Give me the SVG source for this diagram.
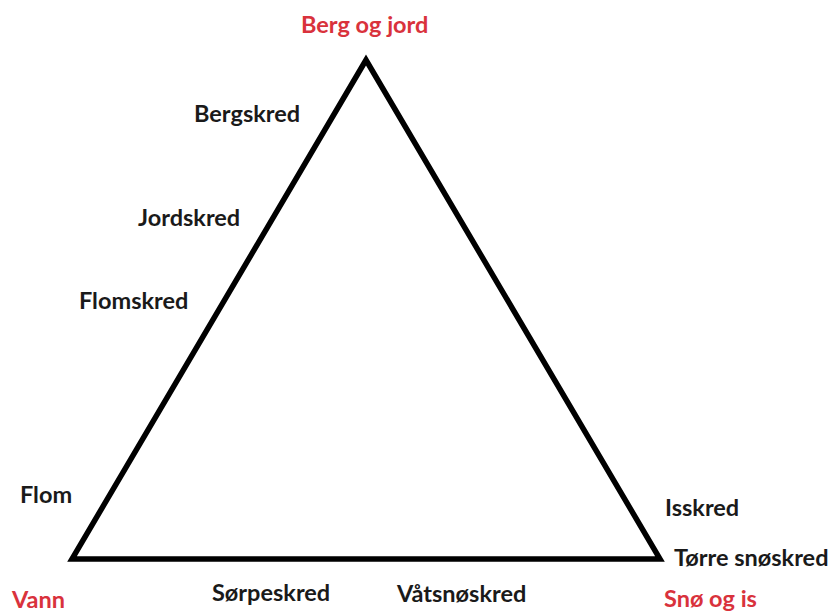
<svg xmlns="http://www.w3.org/2000/svg" width="836" height="613" viewBox="0 0 836 613">
<style>
text{font-family:Lato,"Open Sans","Liberation Sans",sans-serif;font-weight:bold;font-size:23.5px}
.lbl{fill:#1a1a1a}
.corner{fill:#d9323c}
.edge{fill:none;stroke:#000;stroke-width:5.5;stroke-linejoin:miter}
</style>
<rect width="836" height="613" fill="#fff"/>
<g id="connectors">
<path class="edge" d="M366,60 L72,559 L660,559 Z"/>
</g>
<g id="node-berg-og-jord"><text class="corner" x="301" y="33">Berg og jord</text></g>
<g id="node-vann"><text class="corner" x="12" y="608">Vann</text></g>
<g id="node-sno-og-is"><text class="corner" x="664" y="607">Snø og is</text></g>
<g id="node-bergskred"><text class="lbl" x="194" y="122">Bergskred</text></g>
<g id="node-jordskred"><text class="lbl" x="138" y="226">Jordskred</text></g>
<g id="node-flomskred"><text class="lbl" x="79" y="309">Flomskred</text></g>
<g id="node-flom"><text class="lbl" x="20" y="503">Flom</text></g>
<g id="node-isskred"><text class="lbl" x="665" y="516">Isskred</text></g>
<g id="node-torre-snoskred"><text class="lbl" x="674" y="566">Tørre snøskred</text></g>
<g id="node-sorpeskred"><text class="lbl" x="212" y="601">Sørpeskred</text></g>
<g id="node-vatsnoskred"><text class="lbl" x="397" y="602">Våtsnøskred</text></g>
</svg>
